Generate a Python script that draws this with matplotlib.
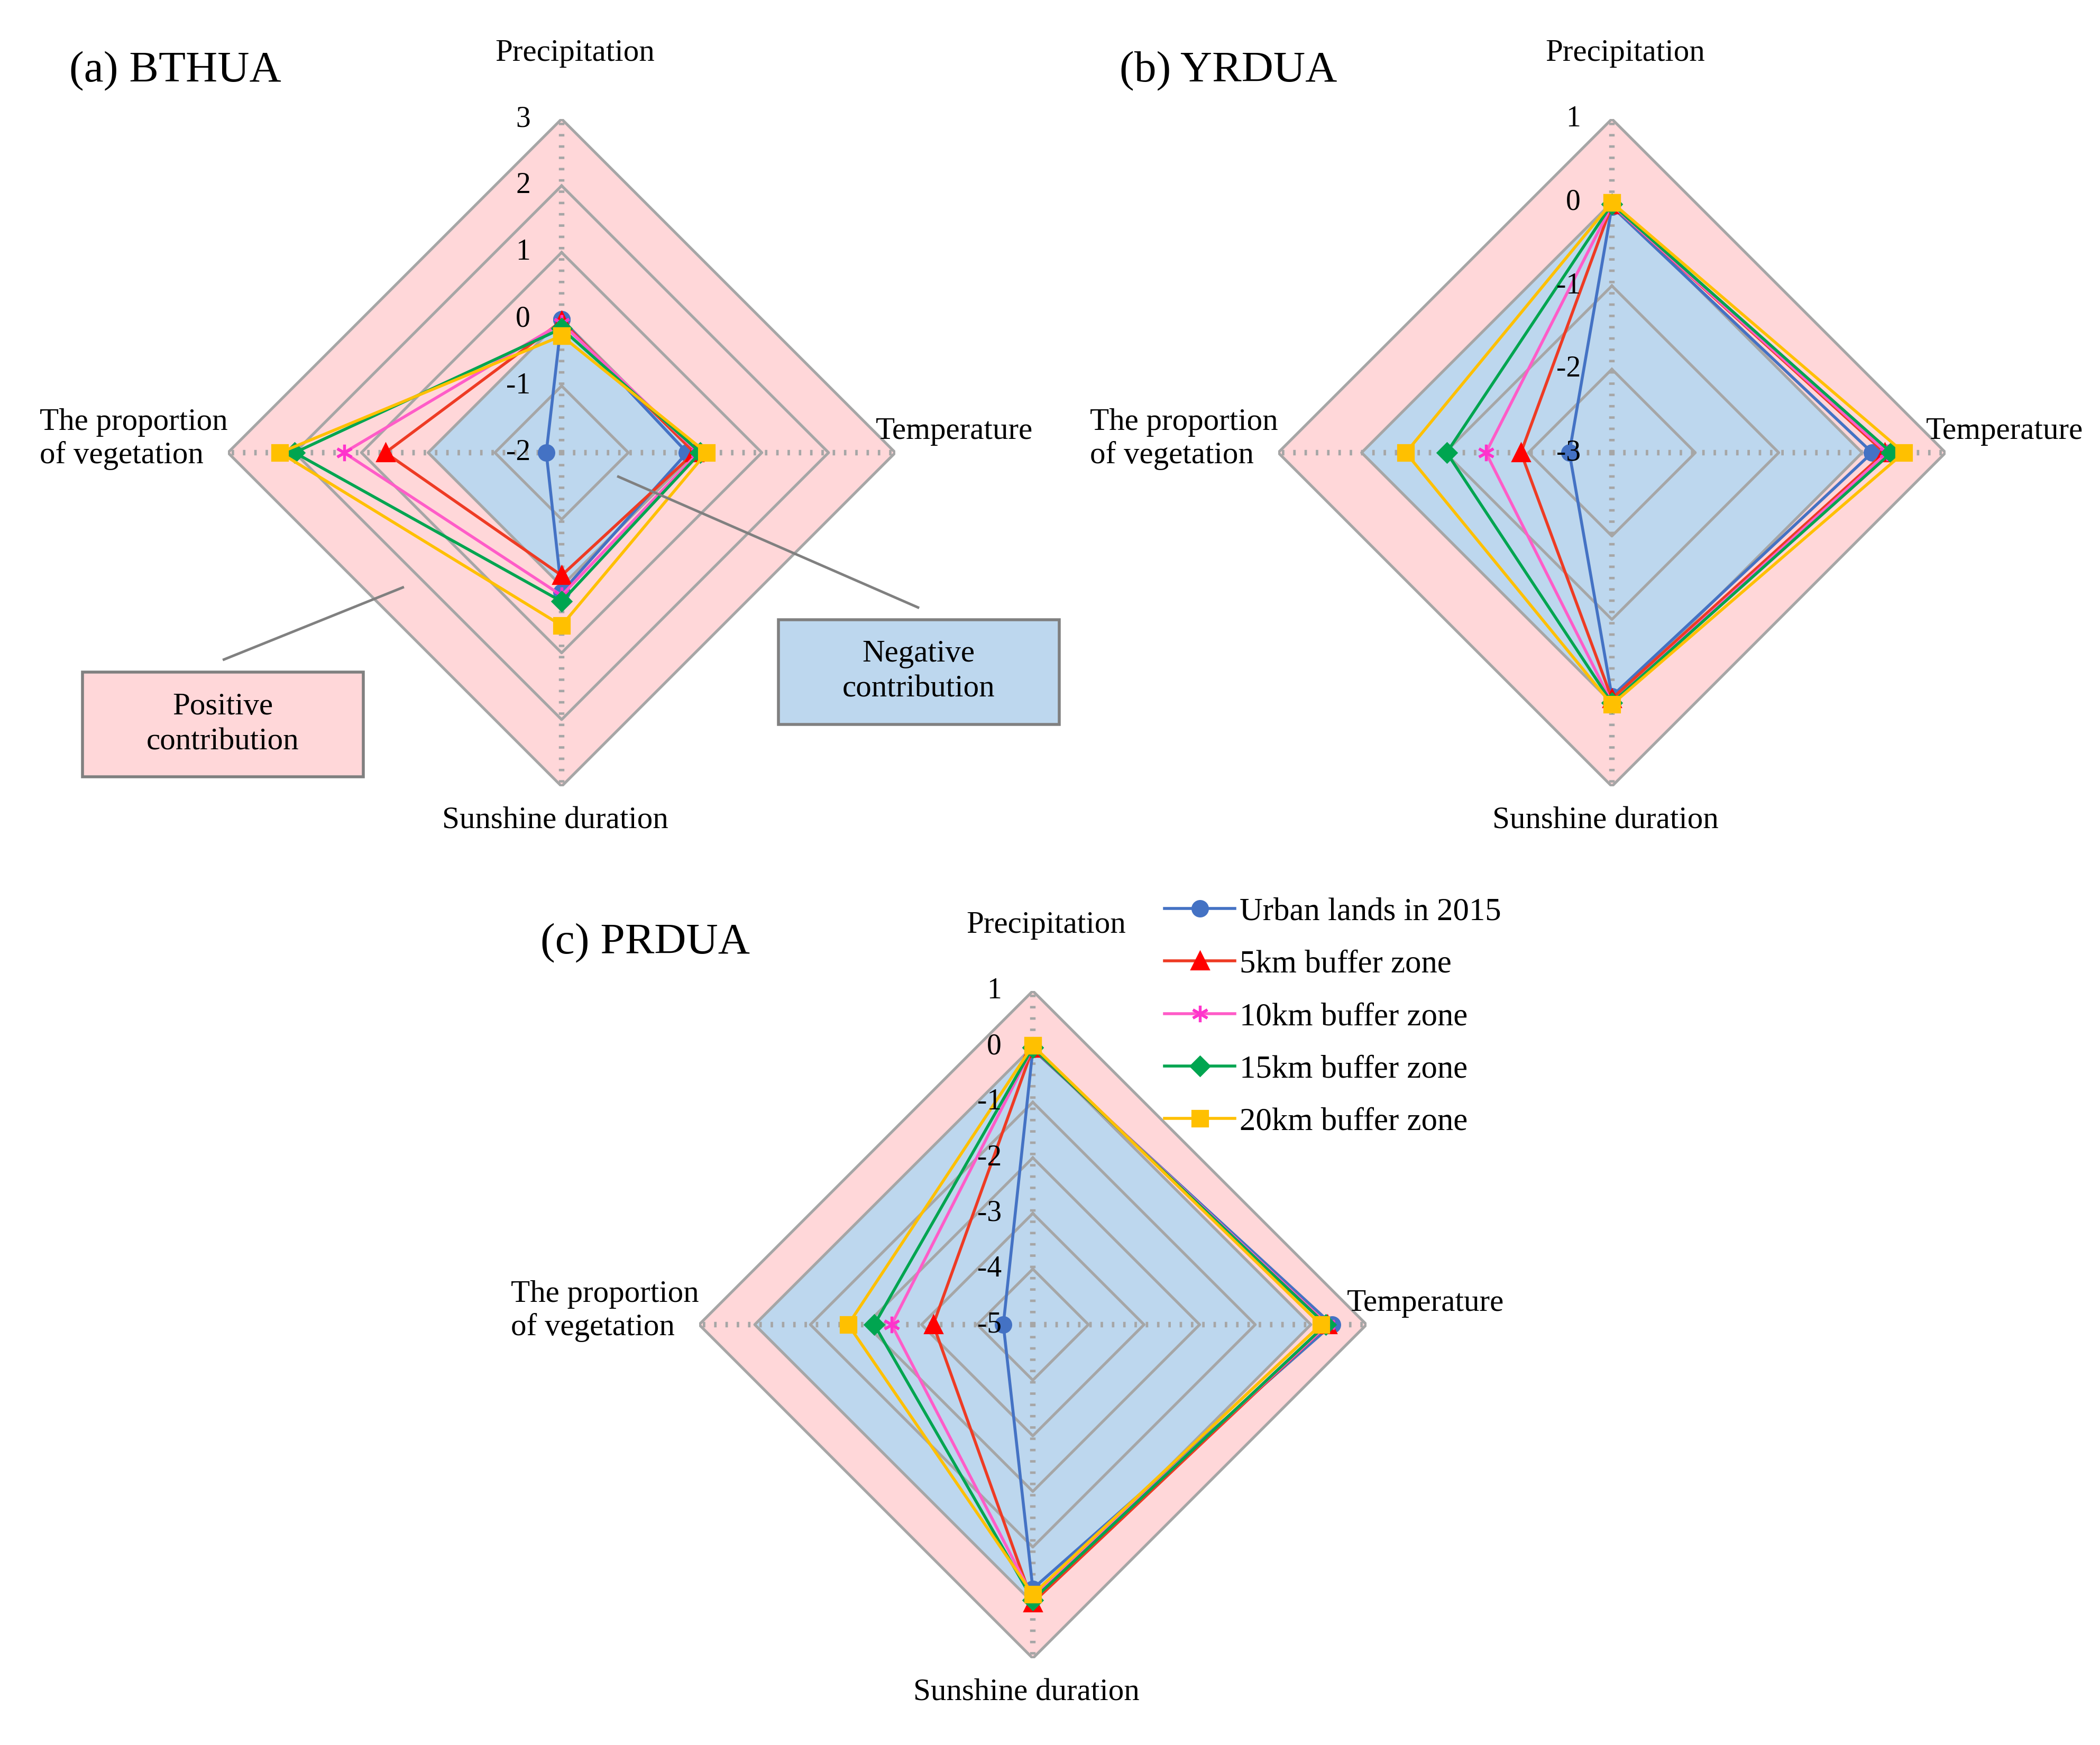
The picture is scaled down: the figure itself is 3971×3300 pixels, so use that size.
import numpy as np
import matplotlib.pyplot as plt
from matplotlib.patches import Rectangle
from matplotlib.lines import Line2D

plt.rcParams['font.family'] = ['Liberation Serif', 'DejaVu Serif']

# axis order: Precipitation (top), Temperature (right), Sunshine (bottom), vegetation (left)
factors = ["Precipitation", "Temperature", "Sunshine duration", "The proportion\nof vegetation"]
series_names = ["Urban lands in 2015", "5km buffer zone", "10km buffer zone",
                "15km buffer zone", "20km buffer zone"]

bthua_values = [
    [0.00, -0.12, 0.09, -1.77],
    [-0.03, -0.01, -0.16, 0.64],
    [-0.06, 0.05, 0.14, 1.26],
    [-0.14, 0.08, 0.23, 2.00],
    [-0.25, 0.17, 0.59, 2.22],
]
yrdua_values = [
    [-0.05, 0.12, -0.08, -2.49],
    [-0.03, 0.27, -0.05, -1.91],
    [-0.03, 0.30, 0.00, -1.49],
    [-0.02, 0.35, 0.00, -1.02],
    [0.00, 0.50, 0.02, -0.53],
]
prdua_values = [
    [-0.05, 0.38, -0.25, -4.47],
    [-0.03, 0.30, 0.00, -3.21],
    [-0.02, 0.30, -0.10, -2.46],
    [-0.02, 0.27, -0.05, -2.15],
    [0.02, 0.18, -0.15, -1.68],
]
bthua_ticks = [-2, -1, 0, 1, 2, 3]
yrdua_ticks = [-3, -2, -1, 0, 1]
prdua_ticks = [-5, -4, -3, -2, -1, 0, 1]

line_colors = ["#4472C4", "#EE3B24", "#FF5CC8", "#00A550", "#FFC000"]
marker_colors = ["#4472C4", "#FF0000", "#FF33CC", "#00A550", "#FFC000"]
markers = ["o", "^", (6, 2, 0), "D", "s"]
marker_sizes = [8, 8.5, 9, 7, 8]

PINK = "#FFD7D9"
BLUE = "#BDD7EE"
GRID = "#A6A6A6"

W, H = 3971, 3300
fig = plt.figure(figsize=(W / 250, H / 250), dpi=250)

theta = np.array([0, np.pi / 2, np.pi, 3 * np.pi / 2])
theta_closed = np.append(theta, theta[0])


def radar(cx, cy, r, values, ticks, title):
    ax = fig.add_axes([(cx - r) / W, 1 - (cy + r) / H, 2 * r / W, 2 * r / H],
                      projection="polar")
    ax.set_theta_zero_location("N")
    ax.set_theta_direction(-1)
    rmin, rmax = ticks[0], ticks[-1]
    ax.set_ylim(rmin, rmax)
    ax.set_axis_off()

    ax.fill(theta_closed, [rmax] * 5, color=PINK, lw=0, zorder=0)
    ax.fill(theta_closed, [0] * 5, color=BLUE, lw=0, zorder=1)
    for v in ticks[1:]:
        ax.plot(theta_closed, [v] * 5, color=GRID, lw=1.5, zorder=2)
    for t in theta:
        ax.plot([t, t], [rmin, rmax], color=GRID, lw=3, dashes=(0.45, 1.6),
                solid_capstyle="butt", dash_capstyle="butt", zorder=2)
    for v in ticks:
        ax.annotate(str(v), xy=(0, v), xytext=(-17, 0), textcoords="offset points",
                    ha="right", va="center", fontsize=16, zorder=6)

    handles = []
    for i, vals in enumerate(values):
        ln, = ax.plot(theta_closed, list(vals) + [vals[0]], color=line_colors[i], lw=1.6,
                      marker=markers[i], ms=marker_sizes[i], mfc=marker_colors[i],
                      mec=marker_colors[i], mew=1.5, zorder=3 + i * 0.1, clip_on=False)
        handles.append(ln)

    ax.text(0.52, 1.098, factors[0], transform=ax.transAxes, ha="center", va="center", fontsize=17)
    ax.text(1.088, 0.532, factors[1], transform=ax.transAxes, ha="center", va="center", fontsize=17)
    ax.text(0.49, -0.052, factors[2], transform=ax.transAxes, ha="center", va="center", fontsize=17)
    ax.text(0.0, 0.52, factors[3], transform=ax.transAxes, ha="right", va="center",
            multialignment="left", fontsize=17, linespacing=1.2)
    ax.text(-0.238, 1.072, title, transform=ax.transAxes, ha="left", va="center", fontsize=24)
    return ax, handles


ax_a, handles = radar(1062, 856, 631, bthua_values, bthua_ticks, "(a) BTHUA")
ax_b, _ = radar(3048, 856, 631, yrdua_values, yrdua_ticks, "(b) YRDUA")
ax_c, _ = radar(1953, 2505, 631, prdua_values, prdua_ticks, "(c) PRDUA")

# explanatory boxes in panel (a)
ax_a.add_patch(Rectangle((-0.218, 0.014), 0.421, 0.157, transform=ax_a.transAxes,
                         facecolor=PINK, edgecolor="#808080", lw=1.6, clip_on=False, zorder=5))
ax_a.text(-0.0075, 0.0925, "Positive\ncontribution", transform=ax_a.transAxes,
          ha="center", va="center", fontsize=17, linespacing=1.3, zorder=6)
ax_a.add_line(Line2D([-0.006, 0.262], [0.19, 0.298], transform=ax_a.transAxes,
                     color="#808080", lw=1.4, clip_on=False, zorder=5))

ax_a.add_patch(Rectangle((0.825, 0.093), 0.421, 0.157, transform=ax_a.transAxes,
                         facecolor=BLUE, edgecolor="#808080", lw=1.6, clip_on=False, zorder=5))
ax_a.text(1.035, 0.1715, "Negative\ncontribution", transform=ax_a.transAxes,
          ha="center", va="center", fontsize=17, linespacing=1.3, zorder=6)
ax_a.add_line(Line2D([1.034, 0.585], [0.268, 0.464], transform=ax_a.transAxes,
                     color="#808080", lw=1.4, clip_on=False, zorder=5))

fig.legend(handles, series_names, loc="upper left", bbox_to_anchor=(853 / 1560, 1 - 655 / 1297),
           frameon=False, fontsize=17.5, handlelength=2.2, handletextpad=0.15,
           labelspacing=0.72, borderpad=0)

fig.savefig("out.png", dpi=250, facecolor="white")
